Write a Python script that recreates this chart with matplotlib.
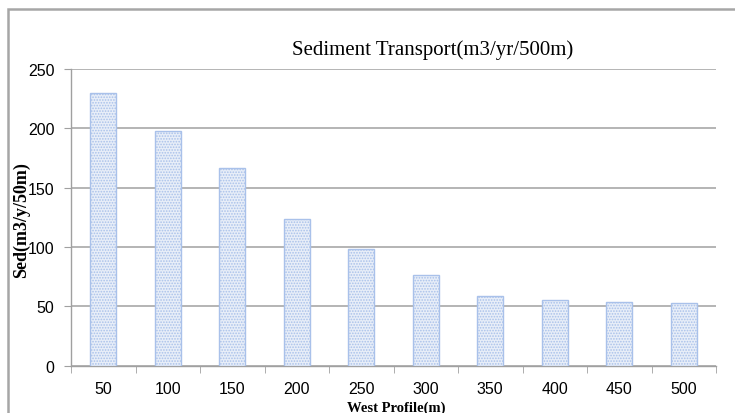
import matplotlib
matplotlib.use("Agg")
import matplotlib.pyplot as plt
from matplotlib.patches import Rectangle
from matplotlib import font_manager
import numpy as np

categories = ["50", "100", "150", "200", "250", "300", "350", "400", "450", "500"]
sed_values = [229.5, 198, 166.5, 123.6, 98.3, 76.6, 58.5, 55.7, 53.4, 52.5]
y_ticks = [0, 50, 100, 150, 200, 250]

title = "Sediment Transport(m3/yr/500m)"
xlabel = "West Profile(m)"
ylabel = "Sed(m3/y/50m)"

avail = {f.name for f in font_manager.fontManager.ttflist}
tick_font = "Liberation Sans Narrow" if "Liberation Sans Narrow" in avail else "Liberation Sans"
serif = "Liberation Serif"

plt.rcParams["hatch.color"] = "#c4d3ee"
plt.rcParams["hatch.linewidth"] = 0.8

W, H = 735, 414
fig = plt.figure(figsize=(W / 100, H / 100), dpi=100)
fig.patch.set_facecolor("white")

# outer frame
fig.patches.append(Rectangle((8 / W, -0.1), 1.2, (H - 10) / H + 0.1, transform=fig.transFigure,
                             fill=False, edgecolor="#a6a6a6", linewidth=1.8))

ax = fig.add_axes([71 / W, (H - 366.7) / H, (716 - 71) / W, (366.7 - 70) / H])
x = np.arange(len(categories))
ax.bar(x, sed_values, width=0.4, facecolor="#e8eef8", edgecolor="#a9c1ea", linewidth=1.0,
       hatch="......", zorder=3)

ax.set_xlim(-0.5, len(categories) - 0.5)
ax.set_ylim(0, 250)
ax.set_yticks(y_ticks)
ax.set_yticklabels([str(v) for v in y_ticks], fontfamily=tick_font, fontsize=11.5)
ax.set_xticks(x)
ax.set_xticklabels(categories, fontfamily=tick_font, fontsize=11.5)
ax.set_xticks(np.arange(-0.5, len(categories)), minor=True)
ax.tick_params(axis="x", which="major", length=0, pad=11)
ax.tick_params(axis="x", which="minor", length=5, color="#a0a0a0", direction="out")
ax.tick_params(axis="y", length=5, color="#a0a0a0", direction="out", pad=7)

ax.yaxis.grid(True, color="#a8a8a8", linewidth=1.2, zorder=0)
ax.set_axisbelow(True)
for s in ["top", "right"]:
    ax.spines[s].set_visible(False)
for s in ["left", "bottom"]:
    ax.spines[s].set_color("#a0a0a0")
    ax.spines[s].set_linewidth(1.0)

fig.text(433 / W, (H - 50) / H, title, fontfamily=serif, fontsize=15, ha="center", va="center")
fig.text(396 / W, (H - 408) / H, xlabel, fontfamily=serif, fontsize=10.5, fontweight="bold",
         ha="center", va="center")
fig.text(21 / W, (H - 220) / H, ylabel, fontfamily=serif, fontsize=13, fontweight="bold",
         ha="center", va="center", rotation=90)

fig.savefig("out.png", dpi=100)
